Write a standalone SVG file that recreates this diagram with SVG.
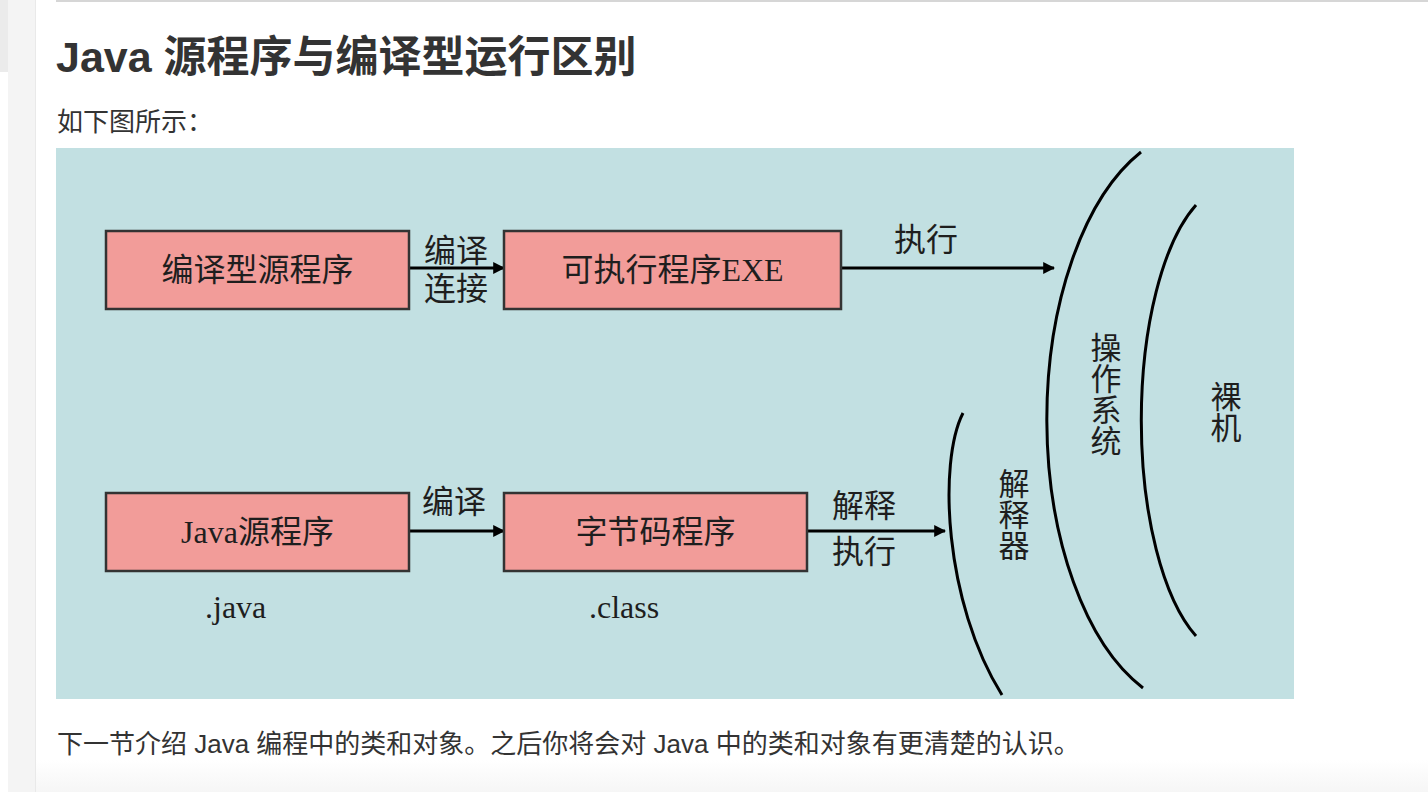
<svg xmlns="http://www.w3.org/2000/svg" width="1428" height="792" viewBox="0 0 1428 792">
<defs>
<style>
.page{font-family:"Liberation Sans","Noto Sans CJK SC",sans-serif;fill:#333}
.dg{font-family:"Liberation Serif","Noto Sans CJK SC",serif;fill:#1e1e1e;font-size:32px}
.vt{font-family:"Noto Sans CJK SC",sans-serif;fill:#1e1e1e;font-size:31px;writing-mode:vertical-rl;text-orientation:upright}
.box{fill:#f29c99;stroke:#333;stroke-width:2.5}
.conn{stroke:#000;stroke-width:3;fill:none}
.arc{stroke:#000;stroke-width:3;fill:none}
</style>
<marker id="ah" viewBox="0 0 10 10" refX="9" refY="5" markerWidth="4" markerHeight="4" orient="auto" markerUnits="strokeWidth">
<path d="M0,0 L10,5 L0,10 z" fill="#000"/>
</marker>
<linearGradient id="fade" x1="0" y1="0" x2="0" y2="1">
<stop offset="0" stop-color="#ffffff"/>
<stop offset="1" stop-color="#f6f6f6"/>
</linearGradient>
</defs>
<rect x="0" y="0" width="1428" height="792" fill="#ffffff"/>
<rect x="36" y="760" width="1392" height="32" fill="url(#fade)"/>
<rect x="8" y="0" width="27" height="792" fill="#f4f4f4"/>
<rect x="35" y="0" width="1" height="792" fill="#e9e9e9"/>
<rect x="0" y="0" width="8" height="72" fill="#ebebeb"/>
<rect x="56" y="0" width="1372" height="2" fill="#d6d6d6"/>
<text class="page" x="56" y="72" font-size="43" font-weight="bold">Java 源程序与编译型运行区别</text>
<text class="page" x="57" y="131" font-size="26">如下图所示：</text>
<text class="page" x="57" y="753" font-size="26">下一节介绍 Java 编程中的类和对象。之后你将会对 Java 中的类和对象有更清楚的认识。</text>

<rect x="56" y="148" width="1238" height="551" fill="#c2e0e2"/>

<g id="connectors">
<line class="conn" x1="409" y1="268" x2="504" y2="268" marker-end="url(#ah)"/>
<line class="conn" x1="841" y1="268" x2="1054" y2="268" marker-end="url(#ah)"/>
<line class="conn" x1="409" y1="531" x2="504" y2="531" marker-end="url(#ah)"/>
<line class="conn" x1="807" y1="531" x2="945" y2="531" marker-end="url(#ah)"/>
<text class="dg" x="424" y="262">编译</text>
<text class="dg" x="424" y="300">连接</text>
<text class="dg" x="894" y="251">执行</text>
<text class="dg" x="422" y="513">编译</text>
<text class="dg" x="832" y="517">解释</text>
<text class="dg" x="832" y="563">执行</text>
</g>

<g id="node-compiled-source">
<rect class="box" x="106" y="231" width="303" height="78"/>
<text class="dg" x="257.5" y="281" text-anchor="middle">编译型源程序</text>
</g>
<g id="node-exe">
<rect class="box" x="504" y="231" width="337" height="78"/>
<text class="dg" x="672.5" y="281" text-anchor="middle">可执行程序EXE</text>
</g>
<g id="node-java-source">
<rect class="box" x="106" y="493" width="303" height="78"/>
<text class="dg" x="257.5" y="543" text-anchor="middle">Java源程序</text>
<text class="dg" x="205" y="618" font-size="30">.java</text>
</g>
<g id="node-bytecode">
<rect class="box" x="504" y="493" width="303" height="78"/>
<text class="dg" x="655.5" y="543" text-anchor="middle">字节码程序</text>
<text class="dg" x="589" y="618" font-size="30">.class</text>
</g>
<g id="node-interpreter">
<path class="arc" d="M963,413 C938,462 944,602 1002,695"/>
<text class="vt" x="1014" y="468">解释器</text>
</g>
<g id="node-os">
<path class="arc" d="M1141,152 A154,290 0 0 0 1143,688"/>
<text class="vt" x="1106" y="332">操作系统</text>
</g>
<g id="node-bare-machine">
<path class="arc" d="M1196,205 A91,235 0 0 0 1196,636"/>
<text class="vt" x="1226" y="381">裸机</text>
</g>
</svg>
